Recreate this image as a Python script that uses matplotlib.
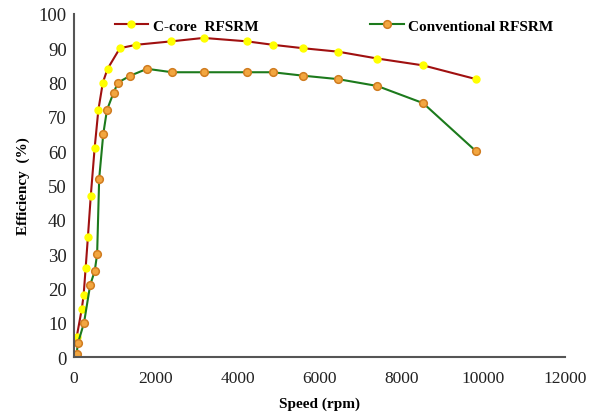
import numpy as np
import matplotlib.pyplot as plt

# efficiency vs speed
speed_ccore = [73, 195, 240, 290, 345, 415, 510, 600, 710, 825, 1125, 1520, 2380,
               3170, 4230, 4860, 5600, 6450, 7410, 8530, 9820]
eff_ccore = [6, 14, 18, 26, 35, 47, 61, 72, 80, 84, 90, 91, 92,
             93, 92, 91, 90, 89, 87, 85, 81]

speed_conv = [70, 100, 250, 400, 510, 570, 620, 720, 810, 970, 1080, 1380, 1790,
              2400, 3170, 4230, 4860, 5600, 6450, 7410, 8530, 9820]
eff_conv = [1, 4, 10, 21, 25, 30, 52, 65, 72, 77, 80, 82, 84,
            83, 83, 83, 83, 82, 81, 79, 74, 60]

plt.rcParams['font.family'] = ['Liberation Serif', 'DejaVu Serif']

fig = plt.figure(figsize=(5.95, 4.14), dpi=100)
ax = fig.add_axes([0.124, 0.135, 0.826, 0.829])

ax.plot(speed_ccore, eff_ccore, color='#A01010', lw=1.5, marker='o', ms=5,
        mfc='#FFFF00', mec='#FFFF00', label='C-core  RFSRM')
ax.plot(speed_conv, eff_conv, color='#1C7A1C', lw=1.5, marker='o', ms=5.5,
        mfc='#F2A640', mec='#D07C20', mew=1.1, label='Conventional RFSRM')

ax.set_xlim(0, 12000)
ax.set_ylim(0, 100)
ax.set_xticks(np.arange(0, 12001, 2000))
ax.set_yticks(np.arange(0, 101, 10))
ax.tick_params(axis='x', length=0, labelsize=12.5, colors='#222222', pad=9)
ax.tick_params(axis='y', length=0, labelsize=13.5, colors='#222222', pad=5)

for s in ['top', 'right']:
    ax.spines[s].set_visible(False)
for s in ['left', 'bottom']:
    ax.spines[s].set_color('#555555')
    ax.spines[s].set_linewidth(1.5)

ax.set_xlabel('Speed (rpm)', fontsize=11, fontweight='bold', labelpad=8)
ax.set_ylabel('Efficiency  (%)', fontsize=11, fontweight='bold', labelpad=6)

ax.legend(loc='upper left', bbox_to_anchor=(0.055, 1.025), ncol=2, frameon=False,
          prop={'weight': 'bold', 'size': 11}, columnspacing=7.3,
          handlelength=2.2, handletextpad=0.3)

fig.savefig('out.png', dpi=100)
